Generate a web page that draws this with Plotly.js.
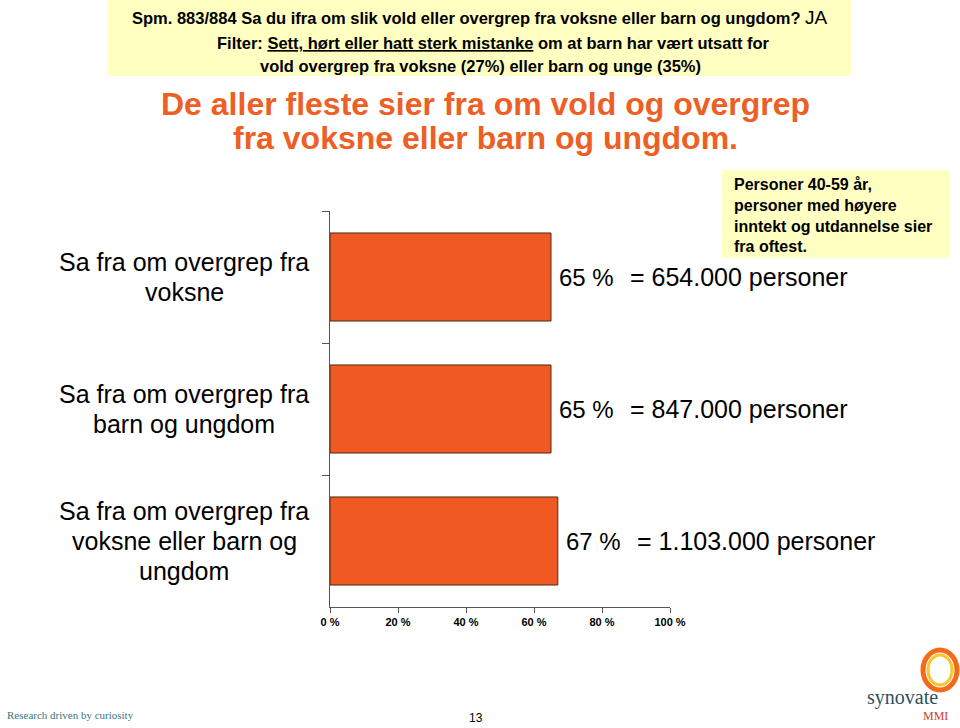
<!DOCTYPE html>
<html>
<head>
<meta charset="utf-8">
<script src="https://cdn.plot.ly/plotly-3.0.1.min.js"></script>
<style>html,body{margin:0;padding:0;background:#fff;}#chart{width:960px;height:728px;}</style>
</head>
<body>
<div id="chart"></div>
<script>
// ---- data ----
var categories = [
  "Sa fra om overgrep fra<br>voksne",
  "Sa fra om overgrep fra<br>barn og ungdom",
  "Sa fra om overgrep fra<br>voksne eller barn og<br>ungdom"
];
var values = [65, 65, 67];
var persons = ["654.000", "847.000", "1.103.000"];
var xTickValues = [0, 20, 40, 60, 80, 100];

var W = 960, H = 728;
function px(x){ return x / W; }
function py(y){ return 1 - y / H; }
var FONT = "Arial, 'Liberation Sans', sans-serif";
var YELLOW = "#FFFFC2";
var ORANGE = "#F05A22";

var trace = {
  type: "bar",
  orientation: "h",
  x: values,
  y: categories,
  marker: { color: ORANGE, line: { color: "#4a2a18", width: 1 } },
  width: 0.667,
  hoverinfo: "none",
  showlegend: false
};

var annotations = [];
var LINE_H = 30;
categories.forEach(function(c, i){
  var lines = c.split("<br>");
  lines.forEach(function(t, k){
    annotations.push({
      xref: "paper", yref: "y", x: px(184), y: c,
      yshift: -(k - (lines.length - 1) / 2) * LINE_H,
      text: t, showarrow: false, xanchor: "center", yanchor: "middle", align: "center",
      font: { family: FONT, size: 25, color: "#000" }
    });
  });
  annotations.push({
    xref: "x", yref: "y", x: values[i], y: c, xshift: 6,
    text: values[i] + " %", showarrow: false, xanchor: "left", yanchor: "middle",
    font: { family: FONT, size: 24, color: "#000" }
  });
  annotations.push({
    xref: "x", yref: "y", x: values[i], y: c, xshift: 77,
    text: "= " + persons[i] + " personer", showarrow: false, xanchor: "left", yanchor: "middle",
    font: { family: FONT, size: 25, color: "#000" }
  });
});

// header box text
annotations.push({
  xref: "paper", yref: "paper", x: px(480), y: py(17),
  text: "<b>Spm. 883/884 Sa du ifra om slik vold eller overgrep fra voksne eller barn og ungdom? </b><span style='font-size:19px'>JA</span>",
  showarrow: false, xanchor: "center", yanchor: "middle",
  font: { family: FONT, size: 16.5, color: "#000" }
});
annotations.push({
  xref: "paper", yref: "paper", x: px(494), y: py(43),
  text: "<b>Filter: <span style='text-decoration:underline'>Sett, hørt eller hatt sterk mistanke</span> om at barn har vært utsatt for</b>",
  showarrow: false, xanchor: "center", yanchor: "middle",
  font: { family: FONT, size: 16.5, color: "#000" }
});
annotations.push({
  xref: "paper", yref: "paper", x: px(480), y: py(66),
  text: "<b>vold overgrep fra voksne (27%) eller barn og unge (35%)</b>",
  showarrow: false, xanchor: "center", yanchor: "middle",
  font: { family: FONT, size: 16.5, color: "#000" }
});
// main title (two lines)
annotations.push({
  xref: "paper", yref: "paper", x: px(485), y: py(104),
  text: "<b>De aller fleste sier fra om vold og overgrep</b>",
  showarrow: false, xanchor: "center", yanchor: "middle", align: "center",
  font: { family: FONT, size: 32, color: "#EE5F25" }
});
annotations.push({
  xref: "paper", yref: "paper", x: px(485), y: py(138),
  text: "<b>fra voksne eller barn og ungdom.</b>",
  showarrow: false, xanchor: "center", yanchor: "middle", align: "center",
  font: { family: FONT, size: 32, color: "#EE5F25" }
});
// side note box
annotations.push({
  xref: "paper", yref: "paper", x: px(732), y: py(215),
  text: "<b>Personer 40-59 år,<br>personer med høyere<br>inntekt og utdannelse sier<br>fra oftest.</b>",
  showarrow: false, xanchor: "left", yanchor: "middle", align: "left",
  font: { family: FONT, size: 16, color: "#000" }
});
// footer
annotations.push({
  xref: "paper", yref: "paper", x: px(5), y: py(715),
  text: "Research driven by curiosity",
  showarrow: false, xanchor: "left", yanchor: "middle",
  font: { family: "'Liberation Serif', 'DejaVu Serif', serif", size: 11, color: "#3d7582" }
});
annotations.push({
  xref: "paper", yref: "paper", x: px(476), y: py(718),
  text: "13",
  showarrow: false, xanchor: "center", yanchor: "middle",
  font: { family: FONT, size: 12, color: "#000" }
});
annotations.push({
  xref: "paper", yref: "paper", x: px(902), y: py(697),
  text: "synovate",
  showarrow: false, xanchor: "center", yanchor: "middle",
  font: { family: "'Liberation Serif', 'DejaVu Serif', serif", size: 20, color: "#2f4f5f" }
});
annotations.push({
  xref: "paper", yref: "paper", x: px(935), y: py(716),
  text: "MMI",
  showarrow: false, xanchor: "center", yanchor: "middle",
  font: { family: "'Liberation Serif', 'DejaVu Serif', serif", size: 12, color: "#d0402a" }
});

var shapes = [
  { type: "rect", xref: "paper", yref: "paper", x0: px(108), x1: px(851), y0: py(0), y1: py(76),
    fillcolor: YELLOW, line: { width: 0 }, layer: "below" },
  { type: "rect", xref: "paper", yref: "paper", x0: px(722), x1: px(950), y0: py(170), y1: py(258),
    fillcolor: YELLOW, line: { width: 0 }, layer: "below" },
  { type: "circle", xref: "paper", yref: "paper", x0: px(923), x1: px(957), y0: py(650), y1: py(690),
    fillcolor: "rgba(0,0,0,0)", line: { color: "#F26A1B", width: 5 } },
  { type: "circle", xref: "paper", yref: "paper", x0: px(928), x1: px(952), y0: py(655), y1: py(685),
    fillcolor: "rgba(0,0,0,0)", line: { color: "#FFC425", width: 3 } }
];

var layout = {
  width: W, height: H,
  margin: { l: 0, r: 0, t: 0, b: 0 },
  paper_bgcolor: "#fff", plot_bgcolor: "#fff",
  showlegend: false,
  xaxis: {
    domain: [px(330), px(670)],
    range: [0, 100],
    tickvals: xTickValues,
    ticktext: xTickValues.map(function(v){ return v + " %"; }),
    ticks: "outside", ticklen: 5, tickcolor: "#555",
    showline: true, linecolor: "#555", linewidth: 1,
    showgrid: false, zeroline: false,
    tickfont: { family: FONT, size: 11, color: "#000", weight: "bold" },
    fixedrange: true
  },
  yaxis: {
    domain: [py(607), py(211)],
    type: "category",
    categoryorder: "array", categoryarray: categories,
    range: [2.5, -0.5],
    tickson: "boundaries",
    ticks: "outside", ticklen: 7, tickcolor: "#555",
    showticklabels: false,
    showline: true, linecolor: "#555", linewidth: 1,
    showgrid: false, zeroline: false,
    fixedrange: true
  },
  annotations: annotations,
  shapes: shapes
};

Plotly.newPlot("chart", [trace], layout, { displayModeBar: false, staticPlot: true });
</script>
</body>
</html>
